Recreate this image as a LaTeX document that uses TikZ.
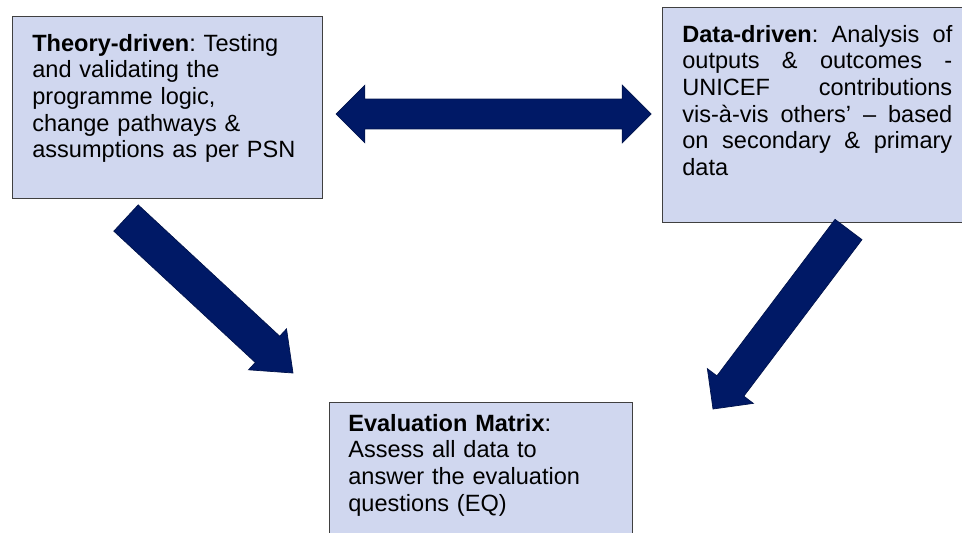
\documentclass[tikz,border=0pt]{standalone}
\usepackage{fontspec}
\setmainfont{Liberation Sans}
\usetikzlibrary{calc,positioning}
\definecolor{navy}{RGB}{0,25,102}
\definecolor{boxfill}{RGB}{208,215,239}
\definecolor{boxline}{RGB}{64,64,64}
\tikzset{%
  infobox/.style={draw=boxline, line width=0.75pt, fill=boxfill, inner sep=0pt, anchor=north west},
  boxtext/.style={inner sep=0pt, anchor=north west, font=\fontsize{13.4}{15.1}\selectfont\frenchspacing},
  blockfill/.style={fill=navy, draw=navy!75!black, line width=0.4pt}
}
% block arrow: tail, tip, half shaft, half head, head length
\newcommand{\blockarrow}[5]{%
  \path ($(#2)!#5!(#1)$) coordinate (hb);
  \filldraw[blockfill] ($(#1)!#3!90:(#2)$) -- ($(hb)!#3!90:(#2)$) -- ($(hb)!#4!90:(#2)$) -- (#2)
    -- ($(hb)!#4!-90:(#2)$) -- ($(hb)!#3!-90:(#2)$) -- ($(#1)!#3!-90:(#2)$) -- cycle;
}
% double block arrow: left tip, right tip, half shaft, half head, head length
\newcommand{\twowayarrow}[5]{%
  \path ($(#1)!#5!(#2)$) coordinate (hbl) ($(#2)!#5!(#1)$) coordinate (hbr);
  \filldraw[blockfill] (#1) -- ($(hbl)!#4!90:(#2)$) -- ($(hbl)!#3!90:(#2)$)
    -- ($(hbr)!#3!-90:(#1)$) -- ($(hbr)!#4!-90:(#1)$) -- (#2)
    -- ($(hbr)!#4!90:(#1)$) -- ($(hbr)!#3!90:(#1)$)
    -- ($(hbl)!#3!-90:(#2)$) -- ($(hbl)!#4!-90:(#2)$) -- cycle;
}

\begin{document}
\begin{tikzpicture}[x=0.02cm,y=-0.02cm]
  \clip (0,0) rectangle (962,532);
  % boxes
  \node[infobox, minimum width=6.2cm, minimum height=3.64cm] (theory) at (12,16) {};
  \node[infobox, minimum width=6.08cm, minimum height=4.3cm] (data) at (662,7) {};
  \node[infobox, minimum width=6.06cm, minimum height=2.76cm] (evalm) at (329,402) {};
  % texts
  \node[boxtext, text width=5.4cm, align=left] (theorytxt) at ([shift={(20,18)}]theory.north west)
    {\textbf{Theory-driven}: Testing\\ and validating the\\ programme logic,\\ change pathways \&\\ assumptions as per PSN};
  \node[boxtext, text width=5.4cm, align=justify] (datatxt) at ([shift={(20,18)}]data.north west)
    {\tolerance=10000 \textbf{Data-driven}: Analysis of\linebreak outputs \& outcomes -\linebreak UNICEF contributions\linebreak vis-à-vis others’ – based\linebreak on secondary \& primary\linebreak data};
  \node[boxtext, text width=5.4cm, align=left] (evaltxt) at ([shift={(19,12)}]evalm.north west)
    {\textbf{Evaluation Matrix}:\\ Assess all data to\\ answer the evaluation\\ questions (EQ)};
  % arrow ends
  \coordinate (leftend) at (336,114);
  \coordinate (rightend) at (651,114);
  \coordinate (theorytail) at (126,218);
  \coordinate (theorytip) at (293,373);
  \coordinate (datatail) at (848.5,229.5);
  \coordinate (datatip) at (713,409);
  % arrows
  \twowayarrow{leftend}{rightend}{8.5pt}{16.4pt}{16.4pt}
  \blockarrow{theorytail}{theorytip}{10.2pt}{15.9pt}{19.8pt}
  \blockarrow{datatail}{datatip}{9.6pt}{16.4pt}{16.4pt}
\end{tikzpicture}
\end{document}
